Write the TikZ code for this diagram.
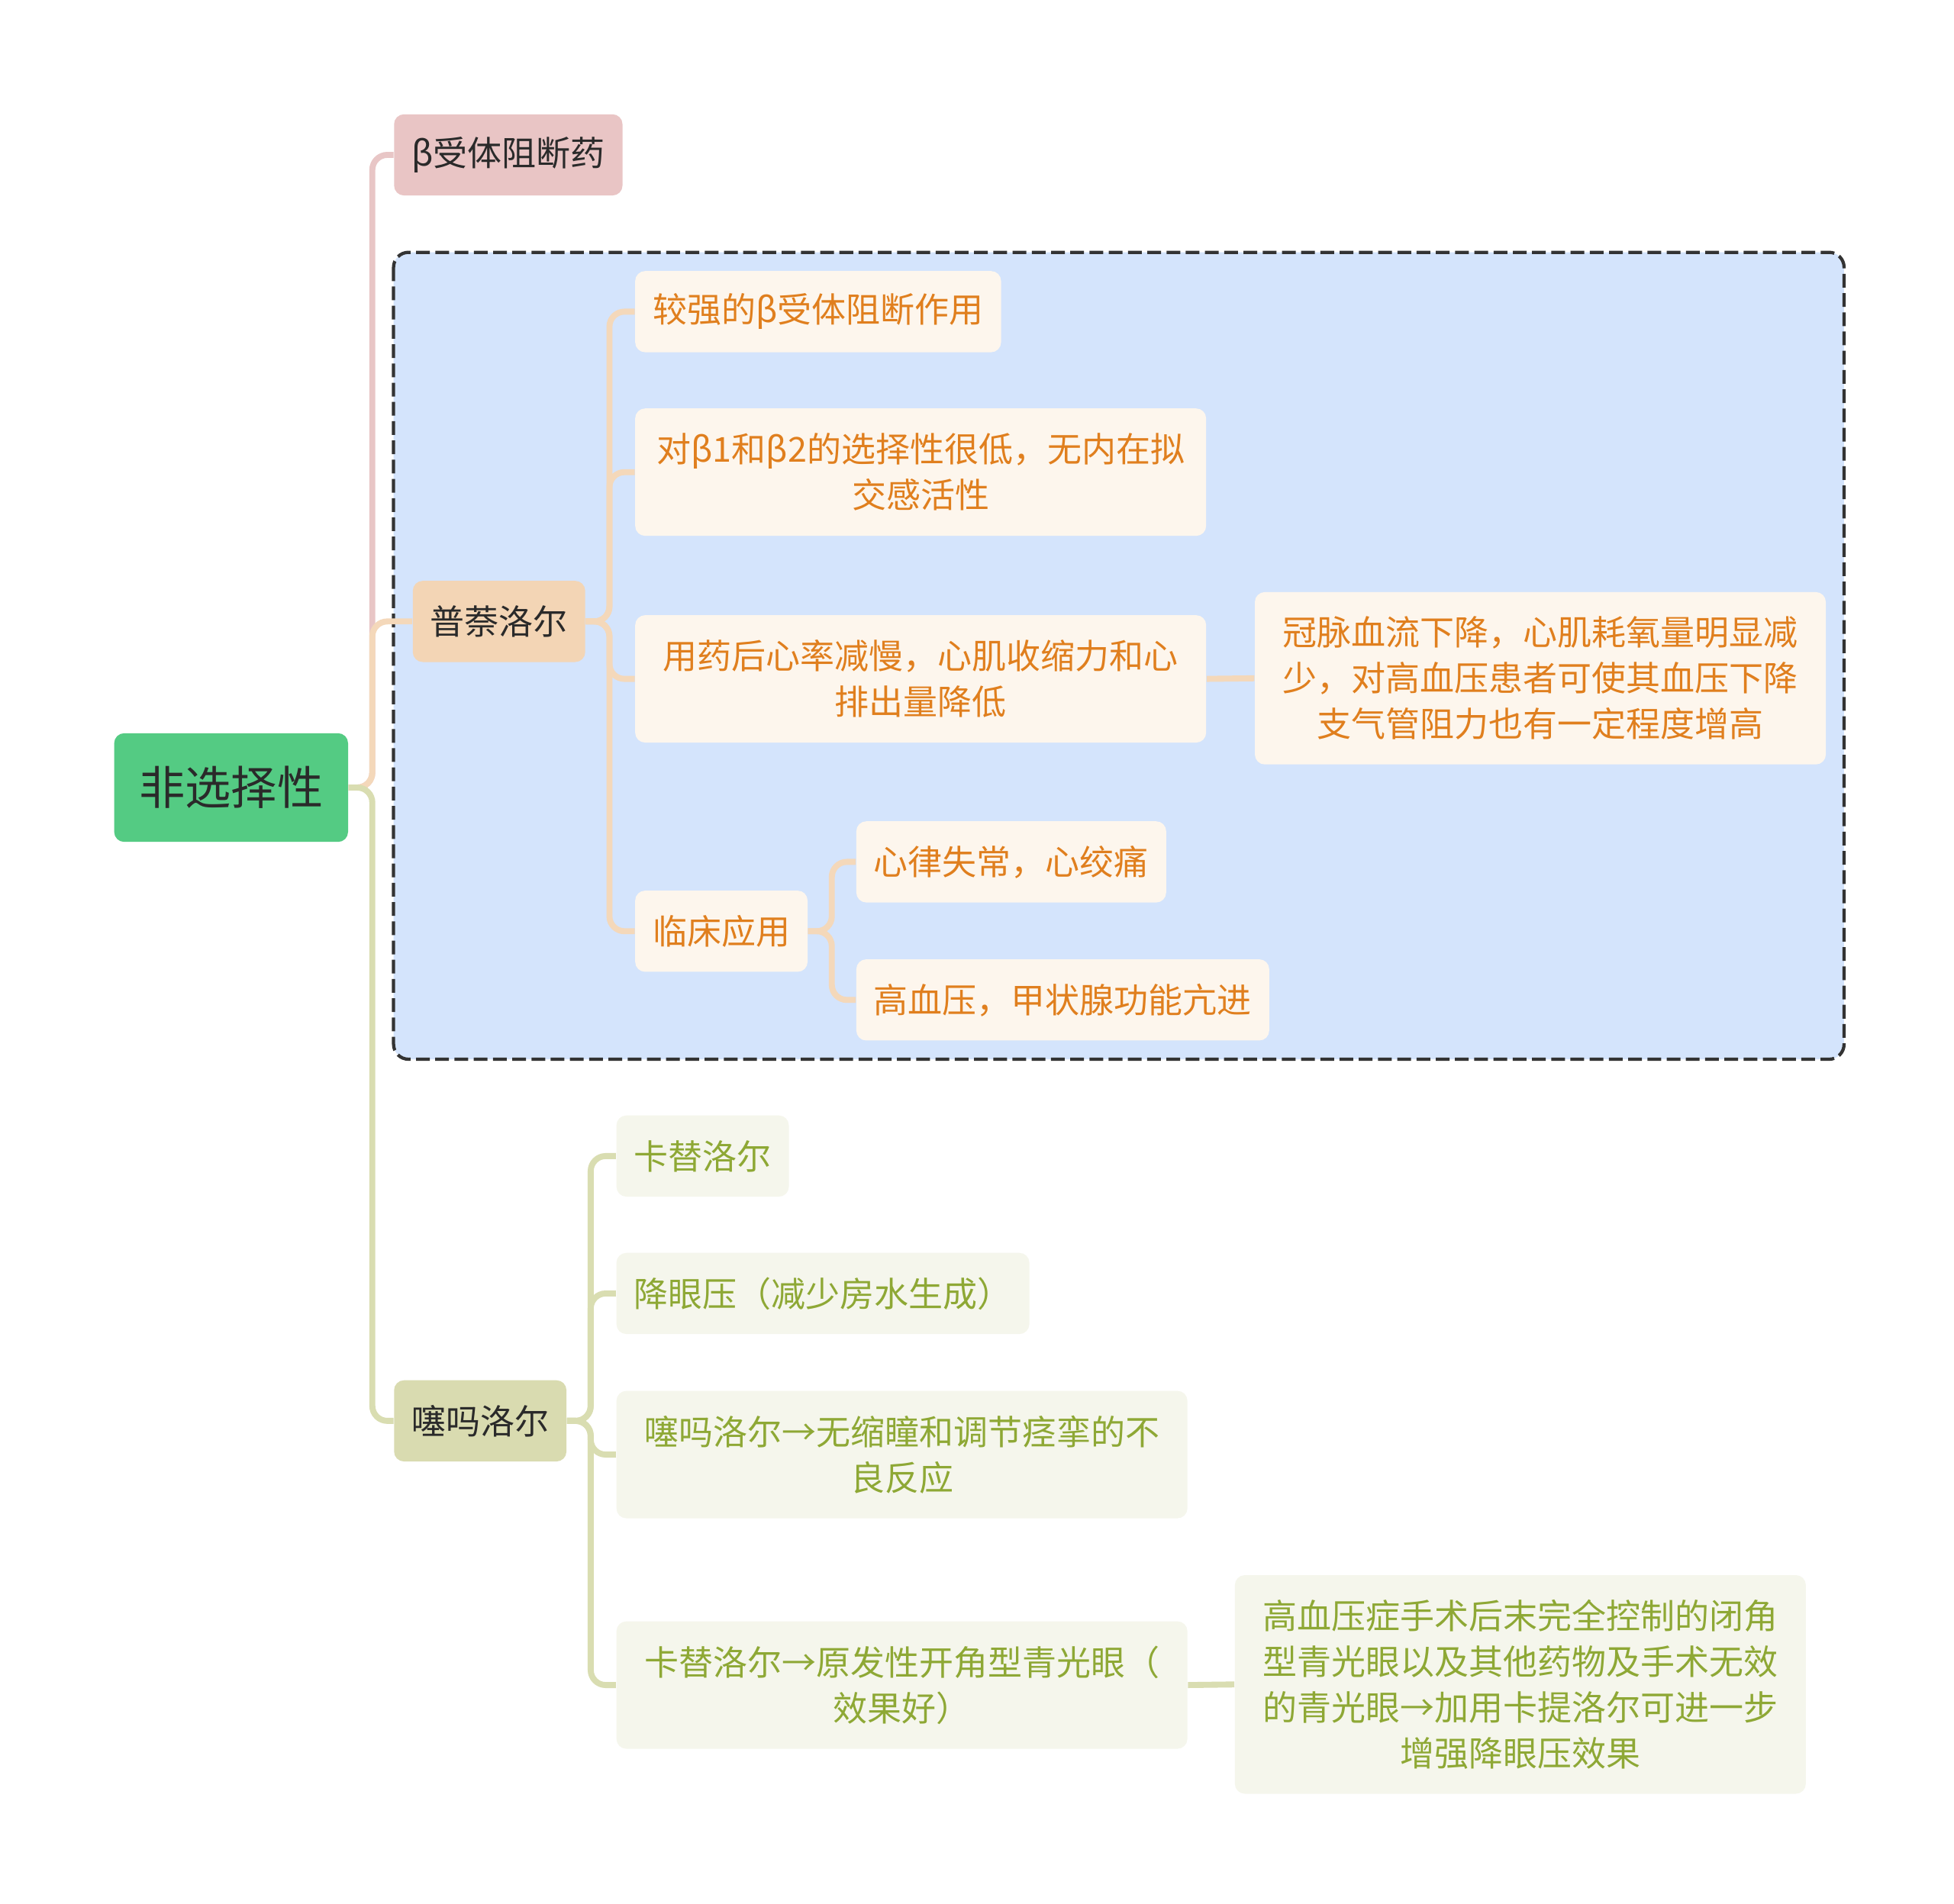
\documentclass[tikz,border=0pt]{standalone}
\usepackage{fontspec}
\setmainfont{Noto Sans CJK SC}
\usepackage{xcolor}
\usepackage{tikz}

\definecolor{rootfill}{HTML}{54CB83}
\definecolor{darktext}{HTML}{2A2A2A}
\definecolor{pinkfill}{HTML}{E9C5C5}
\definecolor{peachfill}{HTML}{F3D5B5}
\definecolor{creamfill}{HTML}{FDF6ED}
\definecolor{orangetext}{HTML}{E07F1E}
\definecolor{bluefill}{HTML}{D4E4FC}
\definecolor{olivefill}{HTML}{D9DBB0}
\definecolor{palefill}{HTML}{F5F6EC}
\definecolor{olivetext}{HTML}{8EA835}
\definecolor{pinkline}{HTML}{E8C6C6}
\definecolor{peachline}{HTML}{F4D8BA}
\definecolor{oliveline}{HTML}{D9DDB1}

\begin{document}
\begin{tikzpicture}[x = 0.5pt, y = -0.5pt,
	box/.style = {rounded corners = 4pt, inner xsep = 7pt, inner ysep = 2pt, minimum height = 32.5pt, align = center, anchor = west, font = \fontsize{13.75}{18.3}\selectfont},
	root/.style = {box, fill = rootfill, text = darktext, inner xsep = 10pt, minimum height = 43.5pt, font = \fontsize{18.4}{22}\selectfont},
	pinktopic/.style = {box, fill = pinkfill, text = darktext},
	peachtopic/.style = {box, fill = peachfill, text = darktext},
	olivetopic/.style = {box, fill = olivefill, text = darktext},
	orangeleaf/.style = {box, fill = creamfill, text = orangetext},
	greenleaf/.style = {box, fill = palefill, text = olivetext},
	wide/.style = {minimum width = 228.5pt},
	two/.style = {minimum height = 51pt},
	three/.style = {minimum height = 69pt},
	four/.style = {minimum height = 87.5pt},
	link/.style = {line width = 2.4pt, rounded corners = 6pt, to path = {-- ++(19,0) |- (\tikztotarget)}},
	groupbox/.style = {fill = bluefill, draw = black!80, line width = 1.3pt, dash pattern = on 5.5pt off 2.2pt, rounded corners = 6pt}]
	\fill[white] (0,0) rectangle (1564,1524);
	\useasboundingbox (0,0) rectangle (1564,1524);
	\draw[groupbox] (315,202) rectangle (1476,848);
	
	\node[root](root) at (91,630.5){非选择性};
	\node[pinktopic](beta) at (315,124){β受体阻断药};
	\node[peachtopic](P) at (330,497.5){普萘洛尔};
	\node[olivetopic](T) at (315,1137.5){噻吗洛尔};
	
	\node[orangeleaf](P1) at (508,249.5){较强的β受体阻断作用};
	\node[orangeleaf, wide, two](P2) at (508,378){对β1和β2的选择性很低，无内在拟\\交感活性};
	\node[orangeleaf, wide, two](P3) at (508,543.5){用药后心率减慢，心肌收缩力和心\\排出量降低};
	\node[orangeleaf, wide, three](P31) at (1004,543){冠脉血流下降，心肌耗氧量明显减\\少，对高血压患者可使其血压下降\\支气管阻力也有一定程度增高};
	\node[orangeleaf](P4) at (508,745.5){临床应用};
	\node[orangeleaf](P41) at (685,690){心律失常，心绞痛};
	\node[orangeleaf](P42) at (685,800.5){高血压，甲状腺功能亢进};
	
	\node[greenleaf](T1) at (493,925.5){卡替洛尔};
	\node[greenleaf](T2) at (493,1035.5){降眼压（减少房水生成）};
	\node[greenleaf, wide, two](T3) at (493,1164.5){噻吗洛尔→无缩瞳和调节痉挛的不\\良反应};
	\node[greenleaf, wide, two](T4) at (493,1349){卡替洛尔→原发性开角型青光眼（\\效果好）};
	\node[greenleaf, wide, four](T41) at (988,1348.5){高血压症手术后末完全控制的闭角\\型青光眼以及其他药物及手术无效\\的青光眼→加用卡提洛尔可进一步\\增强降眼压效果};
	
	\draw (root.east) edge[link, pinkline] (beta.west)
	(root.east) edge[link, peachline] (P.west)
	(root.east) edge[link, oliveline] (T.west);
	
	\draw (P.east) edge[link, peachline] (P1.west)
	(P.east) edge[link, peachline] (P2.west)
	(P.east) edge[link, peachline] (P3.west)
	(P.east) edge[link, peachline] (P4.west)
	(P3.east) edge[line width = 2.4pt, peachline] (P31.west)
	(P4.east) edge[link, peachline] (P41.west)
	(P4.east) edge[link, peachline] (P42.west);
	
	\draw (T.east) edge[link, oliveline] (T1.west)
	(T.east) edge[link, oliveline] (T2.west)
	(T.east) edge[link, oliveline] (T3.west)
	(T.east) edge[link, oliveline] (T4.west)
	(T4.east) edge[line width = 2.4pt, oliveline] (T41.west);
\end{tikzpicture}
\end{document}
